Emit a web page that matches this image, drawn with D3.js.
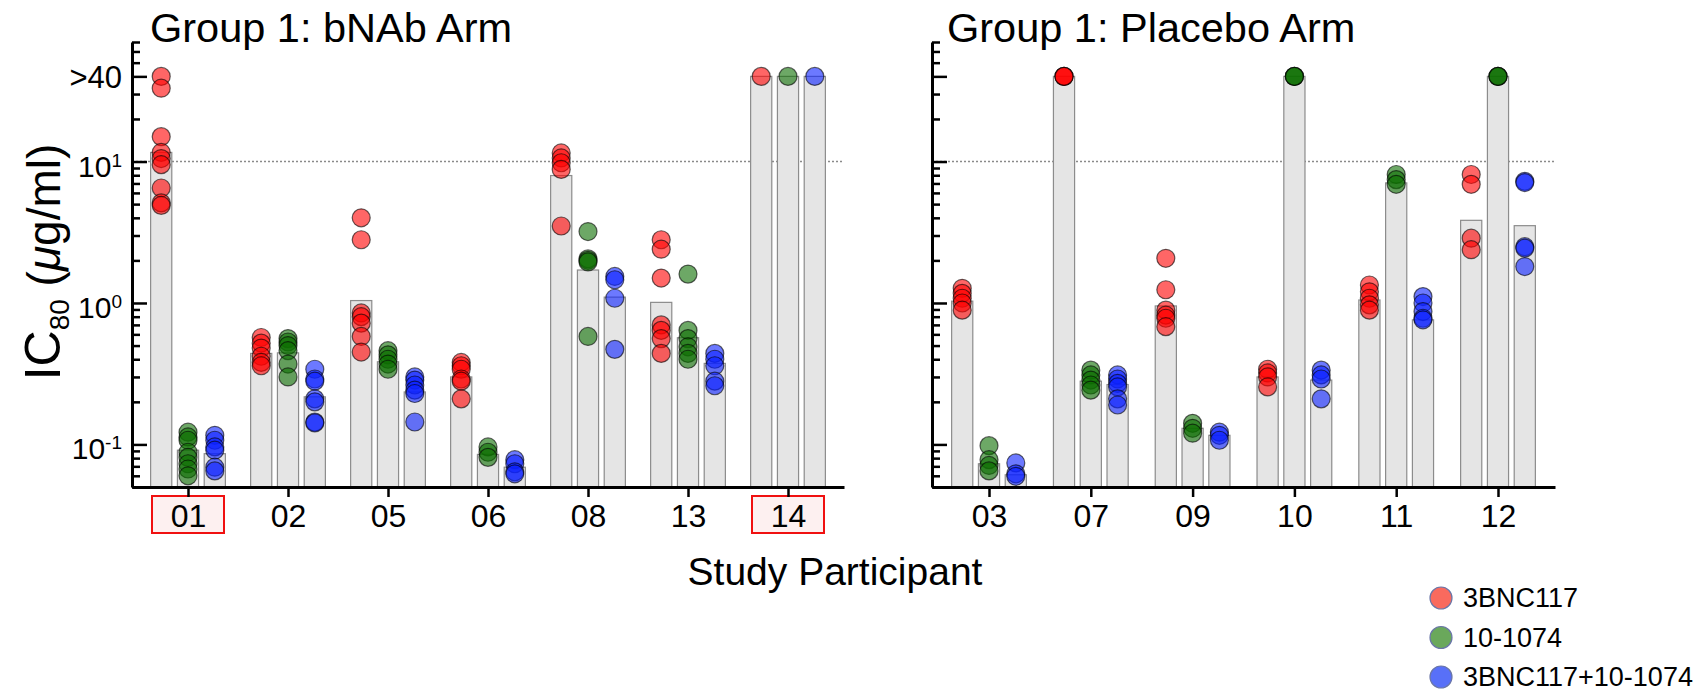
<html>
<head>
<meta charset="utf-8">
<title>IC80 by study participant</title>
<script src="https://cdn.jsdelivr.net/npm/d3@7"></script>
<style>
  body { margin: 0; background: #fff; }
  text { font-family: "Liberation Sans", Arial, sans-serif; fill: #000; }
  .bar { fill: #e5e5e5; stroke: #8c8c8c; stroke-width: 1.2; }
  .dot { stroke: #000; stroke-opacity: 0.6; stroke-width: 1.2; }
  .axis path, .axis line { stroke: #000; }
</style>
</head>
<body>
<svg width="1706" height="691"></svg>
<script>
// antibodies, in bar order
var series = ['3BNC117', '10-1074', '3BNC117+10-1074'];
var seriesColor = ['#ff0000', '#0b6e00', '#0a20ff'];
var legendColor = ['#f96a5e', '#6aa85b', '#5870f8'];

var bnabParticipants = ['01', '02', '05', '06', '08', '13', '14'];
var placeboParticipants = ['03', '07', '09', '10', '11', '12'];
var boxed = ['01', '14'];

// IC80 (ug/ml) of each isolate; >40 is shown as 40
var bnab3BNC117 = [
  [40, 33, 15, 11.6, 10.5, 9.5, 6.5, 5.1, 4.9],
  [0.57, 0.52, 0.48, 0.42, 0.38, 0.36],
  [4.0, 2.8, 0.85, 0.80, 0.72, 0.58, 0.45],
  [0.38, 0.36, 0.34, 0.29, 0.28, 0.21],
  [11.5, 10.6, 9.8, 8.8, 3.5],
  [2.8, 2.4, 1.5, 0.70, 0.64, 0.56, 0.44],
  [40]
];
var bnab10_1074 = [
  [0.122, 0.113, 0.107, 0.088, 0.081, 0.073, 0.067, 0.060],
  [0.56, 0.53, 0.50, 0.46, 0.37, 0.30],
  [0.46, 0.43, 0.40, 0.37, 0.34],
  [0.096, 0.088, 0.081],
  [3.2, 2.05, 2.0, 1.95, 0.58],
  [1.6, 0.64, 0.56, 0.49, 0.44, 0.40],
  [40]
];
var bnabCombo = [
  [0.116, 0.107, 0.096, 0.091, 0.069, 0.065],
  [0.34, 0.29, 0.28, 0.21, 0.20, 0.144, 0.142],
  [0.30, 0.285, 0.263, 0.242, 0.229, 0.144],
  [0.078, 0.073, 0.064, 0.062],
  [1.54, 1.46, 1.08, 0.47],
  [0.44, 0.40, 0.36, 0.28, 0.26],
  [40]
];
var placebo3BNC117 = [
  [1.27, 1.17, 1.08, 1.0, 0.89],
  [40, 40, 40],
  [2.07, 1.24, 0.89, 0.82, 0.78, 0.68],
  [0.34, 0.32, 0.30, 0.255],
  [1.34, 1.2, 1.08, 0.97, 0.89],
  [8.1, 6.9, 2.87, 2.38]
];
var placebo10_1074 = [
  [0.098, 0.078, 0.071, 0.065],
  [0.335, 0.31, 0.285, 0.263, 0.242],
  [0.141, 0.13, 0.12],
  [40, 40, 40],
  [8.1, 7.45, 6.9],
  [40, 40, 40]
];
var placeboCombo = [
  [0.074, 0.062, 0.0595],
  [0.31, 0.29, 0.27, 0.255, 0.21, 0.19],
  [0.122, 0.116, 0.107],
  [0.335, 0.31, 0.29, 0.21],
  [1.11, 1.0, 0.87, 0.78, 0.76],
  [7.25, 7.1, 2.5, 2.44, 1.81]
];

// bar heights (group summary)
var bnabBar3BNC117 = [11.6, 0.44, 1.04, 0.30, 7.96, 1.01, 40];
var bnabBar10_1074 = [0.091, 0.444, 0.384, 0.085, 1.71, 0.568, 40];
var bnabBarCombo = [0.086, 0.217, 0.235, 0.069, 1.1, 0.374, 40];
var placeboBar3BNC117 = [1.03, 40, 0.953, 0.30, 1.05, 3.84];
var placeboBar10_1074 = [0.073, 0.28, 0.13, 40, 7.06, 40];
var placeboBarCombo = [0.061, 0.265, 0.116, 0.285, 0.76, 3.52];

var majorTicks = [0.1, 1, 10, 40];
var cutoff = 10;

var svg = d3.select('svg');
var y = d3.scaleLog().domain([0.05, 70]).range([487, 42]);
var base = y.range()[0];

var minorTicks = [];
for (var k = -2; k <= 1; k++) {
  for (var n = 1; n <= 9; n++) {
    var v = +(n * Math.pow(10, k)).toPrecision(3);
    if (v >= 0.05 && v <= 70 && majorTicks.indexOf(v) < 0) minorTicks.push(v);
  }
}

function drawPanel(p) {
  var g = svg.append('g');
  var x = d3.scalePoint().domain(p.names).range([p.left, p.right]).padding(0.56);
  var sub = d3.scaleBand().domain(series).range([-43, 43]).paddingInner(0.21).paddingOuter(0.21);

  // cutoff line
  g.append('line')
    .attr('x1', p.left).attr('x2', p.right)
    .attr('y1', y(cutoff)).attr('y2', y(cutoff))
    .attr('stroke', '#8a8a8a').attr('stroke-width', 1.5)
    .attr('stroke-dasharray', '2,2');

  // bars
  series.forEach(function(s, si) {
    g.selectAll(null).data(p.bars[si]).enter().append('rect')
      .attr('class', 'bar')
      .attr('x', function(d, i) { return x(p.names[i]) + sub(s); })
      .attr('width', sub.bandwidth())
      .attr('y', function(d) { return y(d); })
      .attr('height', function(d) { return base - y(d); });
  });

  // points
  series.forEach(function(s, si) {
    var pts = [];
    p.points[si].forEach(function(vals, i) {
      vals.forEach(function(v) { pts.push({name: p.names[i], value: v}); });
    });
    g.selectAll(null).data(pts).enter().append('circle')
      .attr('class', 'dot')
      .attr('cx', function(d) { return x(d.name) + sub(s) + sub.bandwidth() / 2; })
      .attr('cy', function(d) { return y(d.value); })
      .attr('r', 9)
      .attr('fill', seriesColor[si])
      .attr('fill-opacity', 0.6);
  });

  // highlighted participants
  g.selectAll(null).data(p.names.filter(function(d) { return boxed.indexOf(d) >= 0; }))
    .enter().append('rect')
    .attr('x', function(d) { return x(d) - 36; })
    .attr('y', 496).attr('width', 72).attr('height', 37)
    .attr('fill', '#fdf0f0').attr('stroke', '#f01010').attr('stroke-width', 2);

  // x axis
  var xa = g.append('g').attr('class', 'axis')
    .attr('transform', 'translate(0,' + base + ')')
    .call(d3.axisBottom(x).tickSize(10).tickSizeOuter(0));
  xa.select('.domain').attr('stroke-width', 3);
  xa.selectAll('.tick line').attr('stroke-width', 2.5);
  xa.selectAll('.tick text').attr('y', 40).attr('dy', 0)
    .style('font-size', '32px');

  // y axis
  var ya = g.append('g').attr('class', 'axis')
    .attr('transform', 'translate(' + p.left + ',0)')
    .call(d3.axisRight(y).tickValues(minorTicks).tickSize(8).tickSizeOuter(0).tickFormat(''));
  ya.select('.domain').attr('stroke-width', 3);
  ya.selectAll('.tick line').attr('stroke-width', 2.5);
  var ym = g.append('g').attr('class', 'axis')
    .attr('transform', 'translate(' + p.left + ',0)')
    .call(d3.axisRight(y).tickValues(majorTicks).tickSize(15).tickSizeOuter(0).tickFormat(''));
  ym.select('.domain').remove();
  ym.selectAll('.tick line').attr('stroke-width', 2.5);

  if (p.yLabels) {
    var lab = g.selectAll(null).data(majorTicks).enter().append('text')
      .attr('text-anchor', 'end')
      .attr('x', p.left - 10);
    lab.each(function(d) {
      var t = d3.select(this);
      if (d === 40) {
        t.attr('y', y(d) + 12).style('font-size', '31px').text('>40');
      } else {
        t.attr('y', y(d) + 15).style('font-size', '30px');
        t.append('tspan').text('10');
        t.append('tspan').attr('dy', -10).style('font-size', '19px')
          .text(Math.round(Math.log10(d)) < 0 ? '-1' : String(Math.round(Math.log10(d))));
      }
    });
  }

  g.append('text')
    .attr('x', p.titleX).attr('y', 42)
    .style('font-size', '41.5px')
    .text(p.title);
}

drawPanel({
  names: bnabParticipants, left: 132, right: 844,
  points: [bnab3BNC117, bnab10_1074, bnabCombo],
  bars: [bnabBar3BNC117, bnabBar10_1074, bnabBarCombo],
  title: 'Group 1: bNAb Arm', titleX: 150, yLabels: true
});
drawPanel({
  names: placeboParticipants, left: 932, right: 1555,
  points: [placebo3BNC117, placebo10_1074, placeboCombo],
  bars: [placeboBar3BNC117, placeboBar10_1074, placeboBarCombo],
  title: 'Group 1: Placebo Arm', titleX: 947, yLabels: false
});

// axis titles
svg.append('text')
  .attr('x', 835).attr('y', 585)
  .attr('text-anchor', 'middle')
  .style('font-size', '39px')
  .text('Study Participant');

var yt = svg.append('text')
  .attr('transform', 'translate(60,262) rotate(-90)')
  .attr('text-anchor', 'middle')
  .style('font-size', '46px');
yt.append('tspan').style('font-size', '50px').text('IC');
yt.append('tspan').attr('dy', 9).style('font-size', '28px').text('80');
yt.append('tspan').attr('dy', -9).text(' (');
yt.append('tspan').style('font-style', 'italic').text('\u03bc');
yt.append('tspan').text('g/ml)');

// legend
var legend = svg.append('g').selectAll('g').data(series).enter().append('g')
  .attr('transform', function(d, i) { return 'translate(1441,' + (598 + i * 39.5) + ')'; });
legend.append('circle')
  .attr('r', 11)
  .attr('fill', function(d, i) { return legendColor[i]; })
  .attr('stroke', '#6a76a8').attr('stroke-width', 1.2);
legend.append('text')
  .attr('x', 22).attr('dy', '0.35em')
  .style('font-size', '27px')
  .text(function(d) { return d; });
</script>
</body>
</html>
